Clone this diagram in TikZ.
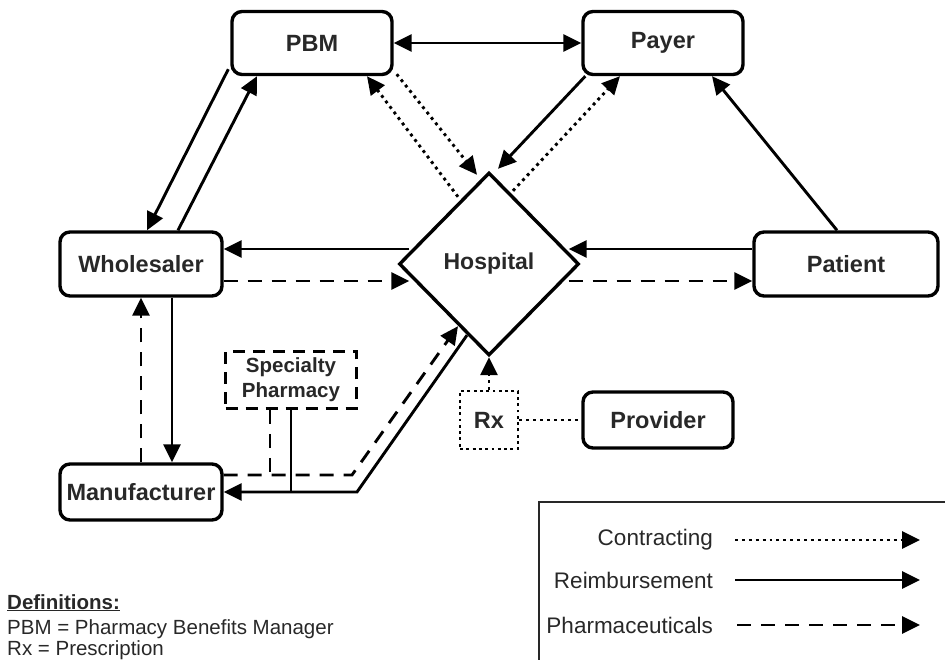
\documentclass[tikz,border=0pt]{standalone}
\usepackage{fontspec}
\setmainfont{Liberation Sans}
\usepackage{xcolor}
\definecolor{inkgray}{RGB}{40,40,40}
\usetikzlibrary{shapes.geometric,arrows.meta,positioning,calc}

\begin{document}
\begin{tikzpicture}[x=1pt,y=1pt]
	\tikzstyle{actbox}=[rectangle,draw=black,line width=3.4pt,rounded corners=10pt,
	minimum width=160pt,minimum height=63pt,align=center,text=inkgray,
	font=\fontsize{23.5}{27}\selectfont\bfseries]
	\tikzstyle{reimb}=[line width=2.9pt,-{Triangle[length=18pt,width=17pt]}]
	\tikzstyle{pharm}=[reimb,dash pattern=on 14pt off 10pt]
	\tikzstyle{contr}=[reimb,dash pattern=on 2.9pt off 4pt]
	\tikzstyle{legtext}=[anchor=east,inner sep=0pt,text=inkgray,font=\fontsize{22.5}{26}\selectfont]
	\tikzstyle{deftext}=[anchor=base west,inner sep=0pt,text=inkgray,font=\fontsize{20.5}{24}\selectfont]
	\useasboundingbox (0,0) rectangle (945,659);
	\clip (0,0) rectangle (945,659);
	% actors
	\node[actbox] (pbm) at (312,616) {PBM};
	\node[actbox] (payer) at (663,616) {Payer};
	\node[actbox,minimum width=162pt,minimum height=64pt] (whole) at (141,395) {Wholesaler};
	\node[actbox,minimum width=184pt,minimum height=64pt] (patient) at (846,395) {Patient};
	\node[actbox,minimum width=162pt,minimum height=56pt] (manuf) at (141,167) {Manufacturer};
	\node[actbox,minimum width=150pt,minimum height=56pt] (prov) at (658,239) {Provider};
	\node[diamond,draw=black,line width=3.4pt,minimum width=180pt,minimum height=183pt,
	inner sep=0pt,text=inkgray,font=\fontsize{23}{27}\selectfont\bfseries] (hosp) at (489,395) {Hospital};
	\node[draw=black,line width=2.9pt,dash pattern=on 12pt off 8pt,minimum width=131pt,
	minimum height=57pt,align=center,text=inkgray,
	font=\fontsize{20.5}{25}\selectfont\bfseries] (spec) at (291,279) {Specialty\\Pharmacy};
	\node[draw=black,line width=2.9pt,dash pattern=on 2.9pt off 3.4pt,minimum size=58pt,
	text=inkgray,font=\fontsize{23.5}{27}\selectfont\bfseries] (rx) at (489,239) {Rx};
	\coordinate (mscorner) at (357,167);
	\coordinate (mdcorner) at (352,184);
	\coordinate (spdash) at ([xshift=-21pt]spec.south);
	% flows
	\draw[reimb,{Triangle[length=18pt,width=17pt]}-{Triangle[length=18pt,width=17pt]}] (pbm) -- (payer);
	\draw[reimb] ([xshift=-2pt,yshift=7pt]pbm.south west) -- ([xshift=6pt]whole.north);
	\draw[reimb] ([xshift=37pt]whole.north) -- ([xshift=-55pt]pbm.south);
	\draw[contr] ([xshift=3pt,yshift=2pt]pbm.south east) -- ([xshift=-12pt,yshift=-4pt]hosp.north);
	\draw[contr] ([xshift=-31pt,yshift=-26pt]hosp.north) -- ([xshift=55pt]pbm.south);
	\draw[reimb] ([xshift=4pt]payer.south west) -- ([xshift=9pt,yshift=2pt]hosp.north);
	\draw[contr] ([xshift=24pt,yshift=-20pt]hosp.north) -- ([xshift=-43pt]payer.south);
	\draw[reimb] ([xshift=-9pt]patient.north) -- ([xshift=49pt]payer.south);
	\draw[reimb] ([yshift=15pt]patient.west) -- ([xshift=-12pt,yshift=15pt]hosp.east);
	\draw[pharm] ([xshift=-12pt,yshift=-17pt]hosp.east) -- ([yshift=-17pt]patient.west);
	\draw[reimb] ([xshift=12pt,yshift=15pt]hosp.west) -- ([yshift=15pt]whole.east);
	\draw[pharm] ([yshift=-17pt]whole.east) -- ([xshift=12pt,yshift=-17pt]hosp.west);
	\draw[reimb] ([xshift=31pt]whole.south) -- ([xshift=31pt]manuf.north);
	\draw[pharm] (manuf.north) -- (whole.south);
	\draw[reimb] ([xshift=-22pt,yshift=22pt]hosp.south) -- (mscorner) -- (manuf.east);
	\draw[pharm] ([yshift=17pt]manuf.east) -- (mdcorner) -- ([xshift=-31pt,yshift=31pt]hosp.south);
	\draw[pharm,-] (spdash) -- (spdash |- mdcorner);
	\draw[reimb,-] (spec.south) -- (spec.south |- mscorner);
	\draw[contr] (rx) -- (hosp.south);
	\draw[contr,-] (rx) -- (prov);
	% legend
	\draw[line width=1.8pt,draw=inkgray] (539,157) rectangle (960,-10);
	\node[legtext] (lgcon) at (713,119) {Contracting};
	\node[legtext] (lgrei) at (713,79) {Reimbursement};
	\node[legtext] (lgpha) at (713,34) {Pharmaceuticals};
	\coordinate (lgconend) at (920,119);
	\coordinate (lgreiend) at (920,79);
	\coordinate (lgphaend) at (920,34);
	\draw[contr] ([xshift=22pt]lgcon.east) -- (lgconend);
	\draw[reimb] ([xshift=22pt]lgrei.east) -- (lgreiend);
	\draw[pharm] ([xshift=24pt]lgpha.east) -- (lgphaend);
	% definitions
	\node[deftext] (defs) at (7,50) {\bfseries\underline{Definitions:}};
	\node[deftext] (defpbm) at ([yshift=-25pt]defs.base west) {PBM = Pharmacy Benefits Manager};
	\node[deftext] (defrx) at ([yshift=-21pt]defpbm.base west) {Rx = Prescription};
\end{tikzpicture}
\end{document}
